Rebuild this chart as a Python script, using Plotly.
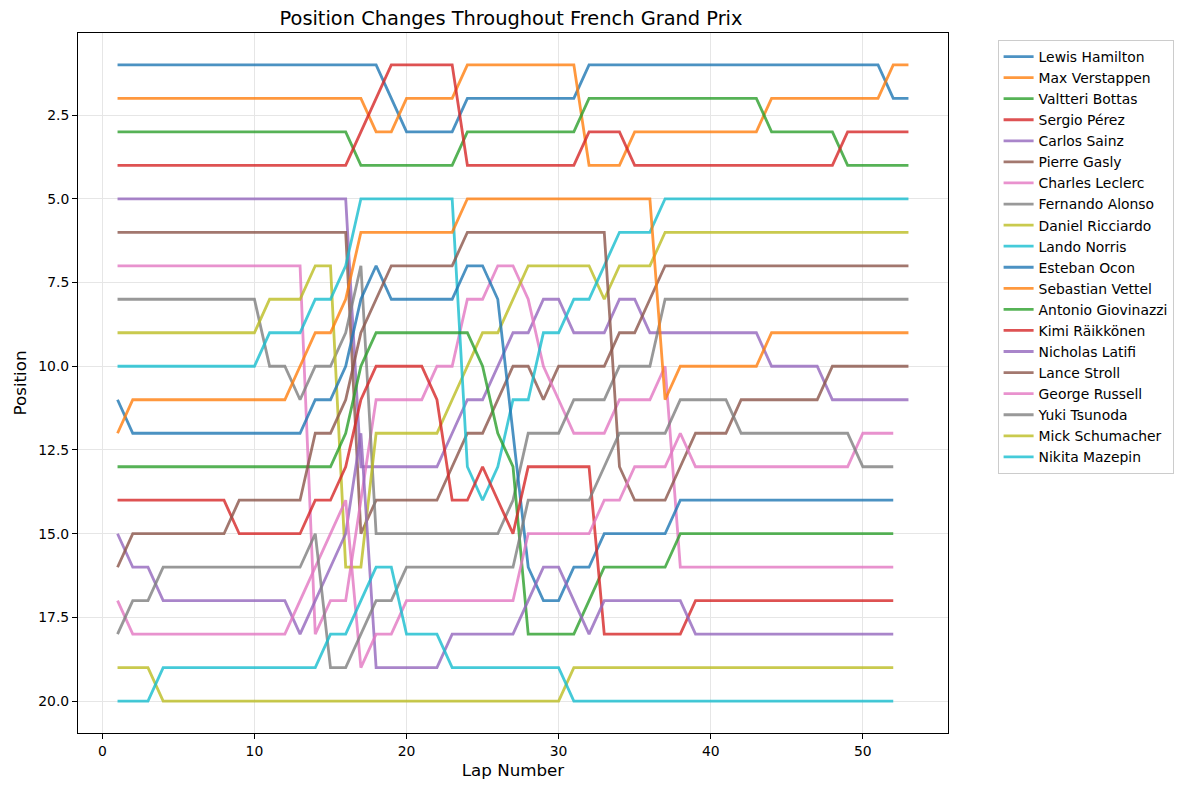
import plotly.graph_objects as go

# finishing order per lap (lapped cars stop at lap 52)
drivers = [
    "Lewis Hamilton", "Max Verstappen", "Valtteri Bottas", "Sergio Pérez",
    "Carlos Sainz", "Pierre Gasly", "Charles Leclerc", "Fernando Alonso",
    "Daniel Ricciardo", "Lando Norris", "Esteban Ocon", "Sebastian Vettel",
    "Antonio Giovinazzi", "Kimi Räikkönen", "Nicholas Latifi", "Lance Stroll",
    "George Russell", "Yuki Tsunoda", "Mick Schumacher", "Nikita Mazepin",
]

hamilton = [1, 1, 1, 1, 1, 1, 1, 1, 1, 1, 1, 1, 1, 1, 1, 1, 1, 1, 2, 3,
            3, 3, 3, 2, 2, 2, 2, 2, 2, 2, 2, 1, 1, 1, 1, 1, 1, 1, 1, 1,
            1, 1, 1, 1, 1, 1, 1, 1, 1, 1, 1, 2, 2]
verstappen = [2, 2, 2, 2, 2, 2, 2, 2, 2, 2, 2, 2, 2, 2, 2, 2, 2, 3, 3, 2,
              2, 2, 2, 1, 1, 1, 1, 1, 1, 1, 1, 4, 4, 4, 3, 3, 3, 3, 3, 3,
              3, 3, 3, 2, 2, 2, 2, 2, 2, 2, 2, 1, 1]
bottas = [3, 3, 3, 3, 3, 3, 3, 3, 3, 3, 3, 3, 3, 3, 3, 3, 4, 4, 4, 4,
          4, 4, 4, 3, 3, 3, 3, 3, 3, 3, 3, 2, 2, 2, 2, 2, 2, 2, 2, 2,
          2, 2, 2, 3, 3, 3, 3, 3, 4, 4, 4, 4, 4]
perez = [4, 4, 4, 4, 4, 4, 4, 4, 4, 4, 4, 4, 4, 4, 4, 4, 3, 2, 1, 1,
         1, 1, 1, 4, 4, 4, 4, 4, 4, 4, 4, 3, 3, 3, 4, 4, 4, 4, 4, 4,
         4, 4, 4, 4, 4, 4, 4, 4, 3, 3, 3, 3, 3]
sainz = [5, 5, 5, 5, 5, 5, 5, 5, 5, 5, 5, 5, 5, 5, 5, 5, 13, 13, 13, 13,
         13, 13, 12, 11, 11, 10, 9, 9, 8, 8, 9, 9, 9, 8, 8, 9, 9, 9, 9, 9,
         9, 9, 9, 10, 10, 10, 10, 11, 11, 11, 11, 11, 11]
gasly = [6, 6, 6, 6, 6, 6, 6, 6, 6, 6, 6, 6, 6, 6, 6, 6, 15, 14, 14, 14,
         14, 14, 13, 12, 12, 11, 10, 10, 11, 10, 10, 10, 10, 9, 9, 8, 7, 7, 7, 7,
         7, 7, 7, 7, 7, 7, 7, 7, 7, 7, 7, 7, 7]
leclerc = [7, 7, 7, 7, 7, 7, 7, 7, 7, 7, 7, 7, 7, 18, 17, 17, 14, 11, 11, 11,
           11, 10, 10, 8, 8, 7, 7, 8, 10, 11, 12, 12, 12, 11, 11, 11, 10, 16, 16, 16,
           16, 16, 16, 16, 16, 16, 16, 16, 16, 16, 16, 16]
alonso = [8, 8, 8, 8, 8, 8, 8, 8, 8, 8, 10, 10, 11, 10, 10, 9, 7, 15, 15, 15,
          15, 15, 15, 15, 15, 15, 14, 12, 12, 12, 11, 11, 11, 10, 10, 10, 8, 8, 8, 8,
          8, 8, 8, 8, 8, 8, 8, 8, 8, 8, 8, 8, 8]
ricciardo = [9, 9, 9, 9, 9, 9, 9, 9, 9, 9, 8, 8, 8, 7, 7, 16, 16, 12, 12, 12,
             12, 12, 11, 10, 9, 9, 8, 7, 7, 7, 7, 7, 8, 7, 7, 7, 6, 6, 6, 6,
             6, 6, 6, 6, 6, 6, 6, 6, 6, 6, 6, 6, 6]
norris = [10, 10, 10, 10, 10, 10, 10, 10, 10, 10, 9, 9, 9, 8, 8, 7, 5, 5, 5, 5,
          5, 5, 5, 13, 14, 13, 11, 11, 9, 9, 8, 8, 7, 6, 6, 6, 5, 5, 5, 5,
          5, 5, 5, 5, 5, 5, 5, 5, 5, 5, 5, 5, 5]
ocon = [11, 12, 12, 12, 12, 12, 12, 12, 12, 12, 12, 12, 12, 11, 11, 10, 8, 7, 8, 8,
        8, 8, 8, 7, 7, 8, 12, 16, 17, 17, 16, 16, 15, 15, 15, 15, 15, 14, 14, 14,
        14, 14, 14, 14, 14, 14, 14, 14, 14, 14, 14, 14]
vettel = [12, 11, 11, 11, 11, 11, 11, 11, 11, 11, 11, 11, 10, 9, 9, 8, 6, 6, 6, 6,
          6, 6, 6, 5, 5, 5, 5, 5, 5, 5, 5, 5, 5, 5, 5, 5, 11, 10, 10, 10,
          10, 10, 10, 9, 9, 9, 9, 9, 9, 9, 9, 9, 9]
giovinazzi = [13, 13, 13, 13, 13, 13, 13, 13, 13, 13, 13, 13, 13, 13, 13, 12, 10, 9, 9, 9,
              9, 9, 9, 9, 10, 12, 13, 18, 18, 18, 18, 17, 16, 16, 16, 16, 16, 15, 15, 15,
              15, 15, 15, 15, 15, 15, 15, 15, 15, 15, 15, 15]
raikkonen = [14, 14, 14, 14, 14, 14, 14, 14, 15, 15, 15, 15, 15, 14, 14, 13, 11, 10, 10, 10,
             10, 11, 14, 14, 13, 14, 15, 13, 13, 13, 13, 13, 18, 18, 18, 18, 18, 18, 17, 17,
             17, 17, 17, 17, 17, 17, 17, 17, 17, 17, 17, 17]
latifi = [15, 16, 16, 17, 17, 17, 17, 17, 17, 17, 17, 17, 18, 17, 16, 15, 12, 19, 19, 19,
          19, 19, 18, 18, 18, 18, 18, 17, 16, 16, 17, 18, 17, 17, 17, 17, 17, 17, 18, 18,
          18, 18, 18, 18, 18, 18, 18, 18, 18, 18, 18, 18]
stroll = [16, 15, 15, 15, 15, 15, 15, 15, 14, 14, 14, 14, 14, 12, 12, 11, 9, 8, 7, 7,
          7, 7, 7, 6, 6, 6, 6, 6, 6, 6, 6, 6, 6, 13, 14, 14, 14, 13, 12, 12,
          12, 11, 11, 11, 11, 11, 11, 10, 10, 10, 10, 10, 10]
russell = [17, 18, 18, 18, 18, 18, 18, 18, 18, 18, 18, 18, 17, 16, 15, 14, 19, 18, 18, 17,
           17, 17, 17, 17, 17, 17, 17, 15, 15, 15, 15, 15, 14, 14, 13, 13, 13, 12, 13, 13,
           13, 13, 13, 13, 13, 13, 13, 13, 13, 12, 12, 12]
tsunoda = [18, 17, 17, 16, 16, 16, 16, 16, 16, 16, 16, 16, 16, 15, 19, 19, 18, 17, 17, 16,
           16, 16, 16, 16, 16, 16, 16, 14, 14, 14, 14, 14, 13, 12, 12, 12, 12, 11, 11, 11,
           11, 12, 12, 12, 12, 12, 12, 12, 12, 13, 13, 13]
schumacher = [19, 19, 19, 20, 20, 20, 20, 20, 20, 20, 20, 20, 20, 20, 20, 20, 20, 20, 20, 20,
              20, 20, 20, 20, 20, 20, 20, 20, 20, 20, 19, 19, 19, 19, 19, 19, 19, 19, 19, 19,
              19, 19, 19, 19, 19, 19, 19, 19, 19, 19, 19, 19]
mazepin = [20, 20, 20, 19, 19, 19, 19, 19, 19, 19, 19, 19, 19, 19, 18, 18, 17, 16, 16, 18,
           18, 18, 19, 19, 19, 19, 19, 19, 19, 19, 20, 20, 20, 20, 20, 20, 20, 20, 20, 20,
           20, 20, 20, 20, 20, 20, 20, 20, 20, 20, 20, 20]

positions = [hamilton, verstappen, bottas, perez, sainz, gasly, leclerc, alonso,
             ricciardo, norris, ocon, vettel, giovinazzi, raikkonen, latifi, stroll,
             russell, tsunoda, schumacher, mazepin]

x_ticks = [0, 10, 20, 30, 40, 50]
y_ticks = [2.5, 5.0, 7.5, 10.0, 12.5, 15.0, 17.5, 20.0]
y_tick_labels = ["2.5", "5.0", "7.5", "10.0", "12.5", "15.0", "17.5", "20.0"]

# matplotlib tab10 cycle
colors = ["#1f77b4", "#ff7f0e", "#2ca02c", "#d62728", "#9467bd",
          "#8c564b", "#e377c2", "#7f7f7f", "#bcbd22", "#17becf"]

FONT = "DejaVu Sans"
# page body has an 8px margin, so the figure is a bit smaller than the window
W, H = 1179, 782

fig = go.Figure()
for i, (name, pos) in enumerate(zip(drivers, positions)):
    fig.add_trace(go.Scatter(
        x=list(range(1, len(pos) + 1)),
        y=pos,
        mode="lines",
        name=name,
        opacity=0.8,
        line=dict(color=colors[i % 10], width=2.8),
    ))

axis_common = dict(
    showline=True, mirror=True, linecolor="black", linewidth=1,
    ticks="outside", ticklen=5, tickwidth=1, tickcolor="black",
    showgrid=True, gridcolor="#e6e6e6", gridwidth=0.8,
    zeroline=False,
    tickfont=dict(family=FONT, size=13.9, color="black"),
)

fig.update_xaxes(
    range=[-1.6, 55.6],
    tickvals=x_ticks,
    title=dict(text="Lap Number", font=dict(family=FONT, size=16.7, color="black"), standoff=6),
    **axis_common,
)
fig.update_yaxes(
    range=[20.95, 0.05],
    tickvals=y_ticks,
    ticktext=y_tick_labels,
    title=dict(text="Position", font=dict(family=FONT, size=16.7, color="black"), standoff=7),
    **axis_common,
)

fig.update_layout(
    width=W, height=H,
    paper_bgcolor="white", plot_bgcolor="white",
    margin=dict(l=66, r=239, t=25, b=57),
    font=dict(family=FONT, color="black"),
    title=dict(
        text="Position Changes Throughout French Grand Prix",
        font=dict(family=FONT, size=19.4, color="black"),
        x=(66 + 940) / 2 / W, xanchor="center",
        y=1 - 10 / H, yanchor="middle",
    ),
    legend=dict(
        x=1.057, y=0.99, xanchor="left", yanchor="top",
        bordercolor="#cccccc", borderwidth=1,
        font=dict(family=FONT, size=13.9, color="black"),
        bgcolor="white",
    ),
    showlegend=True,
)

fig.write_html("out.html")
